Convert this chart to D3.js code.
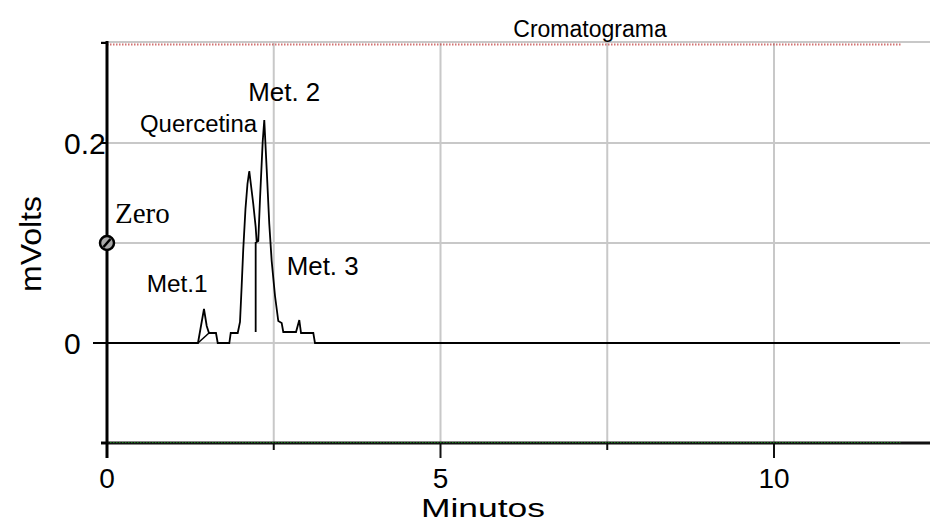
<!DOCTYPE html>
<html><head><meta charset="utf-8">
<script src="https://cdn.jsdelivr.net/npm/d3@7"></script>
<style>body{margin:0;background:#fff}svg{display:block}</style>
</head><body>
<svg id="c" width="930" height="523"></svg>
<script>
// ---- data ----
const times  = [0, 1.364, 1.454, 1.495, 1.529, 1.634, 1.660, 1.834, 1.855, 1.960, 1.994, 2.019, 2.043, 2.076, 2.106, 2.133, 2.193, 2.229, 2.244, 2.268, 2.294, 2.334, 2.358, 2.394, 2.433, 2.469, 2.519, 2.568, 2.619, 2.643, 2.834, 2.883, 2.909, 3.093, 3.118, 11.889];
const mvolts = [0, 0, 0.034, 0.017, 0.010, 0.010, 0, 0, 0.010, 0.010, 0.021, 0.057, 0.094, 0.134, 0.159, 0.172, 0.139, 0.116, 0.101, 0.102, 0.144, 0.201, 0.223, 0.174, 0.119, 0.082, 0.047, 0.022, 0.020, 0.011, 0.011, 0.023, 0.010, 0.010, 0, 0];
const met1BaseT = [1.364, 1.529];
const met1BaseV = [0, 0.010];
const dropT = [2.229, 2.229];
const dropV = [0.011, 0.101];
const xTicks = [0, 2.5, 5, 7.5, 10];
const xLabels = ["0", "", "5", "", "10"];
const yTicks = [-0.1, 0, 0.1, 0.2, 0.3];
const yLabels = ["", "0", "", "0.2", ""];
const peakNames = ["Met.1", "Quercetina", "Met. 2", "Met. 3"];
const peakT = [0.595, 0.495, 2.118, 2.694];
const peakV = [0.0507, 0.2107, 0.2423, 0.068];
const zeroT = 0, zeroV = 0.1;

// ---- scales ----
const x = d3.scaleLinear().domain([0, 10]).range([107, 774]);
const y = d3.scaleLinear().domain([-0.1, 0.3]).range([443, 43]);
const svg = d3.select("#c");
const X0 = 107, X1 = 930, Y0 = 443, Y1 = 42;
const SANS = "Liberation Sans, Arial, sans-serif";

// grid
svg.append("g").selectAll("line").data(xTicks.slice(1)).join("line")
  .attr("x1", d => x(d)).attr("x2", d => x(d)).attr("y1", Y1).attr("y2", Y0)
  .attr("stroke", "#c8c8c8").attr("stroke-width", 2);
svg.append("g").selectAll("line").data(yTicks.slice(1)).join("line")
  .attr("x1", d => d === 0.3 ? 101 : X0).attr("x2", X1)
  .attr("y1", d => d === 0.3 ? Y1 : y(d)).attr("y2", d => d === 0.3 ? Y1 : y(d))
  .attr("stroke", "#c8c8c8").attr("stroke-width", 2);

// red dotted top line
svg.append("line").attr("x1", X0).attr("x2", 902).attr("y1", 44.5).attr("y2", 44.5)
  .attr("stroke", "#c85050").attr("stroke-width", 2).attr("stroke-dasharray", "1.5,1.5").attr("opacity", 0.8);

// bottom axis
svg.append("line").attr("x1", 101).attr("x2", X1).attr("y1", Y0).attr("y2", Y0)
  .attr("stroke", "#111").attr("stroke-width", 3);
svg.append("line").attr("x1", X0).attr("x2", 902).attr("y1", Y0 - 0.5).attr("y2", Y0 - 0.5)
  .attr("stroke", "#1a7a1a").attr("stroke-width", 1.2).attr("stroke-dasharray", "1.5,1.5");
svg.append("g").selectAll("line").data(xTicks).join("line")
  .attr("x1", d => x(d)).attr("x2", d => x(d)).attr("y1", Y0)
  .attr("y2", (d, i) => xLabels[i] ? 458 : 450)
  .attr("stroke", "#111").attr("stroke-width", 2);
svg.append("g").selectAll("text").data(xTicks).join("text")
  .attr("x", d => x(d)).attr("y", 488).attr("text-anchor", "middle")
  .attr("font-family", SANS).attr("font-size", 28)
  .text((d, i) => xLabels[i]);
svg.append("text").attr("x", 483).attr("y", 517).attr("text-anchor", "middle")
  .attr("font-family", SANS).attr("font-size", 26)
  .attr("textLength", 124).attr("lengthAdjust", "spacingAndGlyphs").text("Minutos");

// left axis
svg.append("line").attr("x1", X0).attr("x2", X0).attr("y1", Y1 - 1).attr("y2", 458)
  .attr("stroke", "#000").attr("stroke-width", 3);
svg.append("g").selectAll("line").data(yTicks).join("line")
  .attr("x1", d => d === 0 ? 93 : 101).attr("x2", X0)
  .attr("y1", d => y(d)).attr("y2", d => y(d))
  .attr("stroke", "#000").attr("stroke-width", 2);
svg.append("g").selectAll("text").data(yTicks).join("text")
  .attr("x", 64).attr("y", d => y(d) + 11).attr("text-anchor", "start")
  .attr("font-family", SANS).attr("font-size", 30)
  .text((d, i) => yLabels[i]);
svg.append("text").attr("transform", "translate(41,244) rotate(-90)").attr("text-anchor", "middle")
  .attr("font-family", SANS).attr("font-size", 30)
  .attr("textLength", 96).attr("lengthAdjust", "spacingAndGlyphs").text("mVolts");

// title
svg.append("text").attr("x", 590).attr("y", 37).attr("text-anchor", "middle")
  .attr("font-family", SANS).attr("font-size", 23).text("Cromatograma");

// trace
const line = d3.line().x(d => x(d[0])).y(d => y(d[1]));
svg.append("path").attr("d", line(d3.zip(times, mvolts)))
  .attr("fill", "none").attr("stroke", "#000").attr("stroke-width", 1.8).attr("stroke-linejoin", "miter");
svg.append("path").attr("d", line(d3.zip(met1BaseT, met1BaseV)))
  .attr("fill", "none").attr("stroke", "#000").attr("stroke-width", 1.5);
svg.append("path").attr("d", line(d3.zip(dropT, dropV)))
  .attr("fill", "none").attr("stroke", "#000").attr("stroke-width", 1.8);

// peak labels
const sizes = [24, 23, 25, 25];
const widths = [61, 117, 72, 72];
svg.append("g").selectAll("text").data(peakNames).join("text")
  .attr("x", (d, i) => x(peakT[i])).attr("y", (d, i) => y(peakV[i]))
  .attr("text-anchor", "start")
  .attr("font-family", SANS)
  .attr("font-size", (d, i) => sizes[i])
  .attr("textLength", (d, i) => widths[i]).attr("lengthAdjust", "spacingAndGlyphs")
  .text(d => d);

// zero marker
const zx = x(zeroT), zy = y(zeroV);
svg.append("circle").attr("cx", zx).attr("cy", zy).attr("r", 7)
  .attr("fill", "#a8a8a8").attr("stroke", "#000").attr("stroke-width", 2.5);
svg.append("line").attr("x1", zx - 3.5).attr("y1", zy + 4).attr("x2", zx + 3.5).attr("y2", zy - 4)
  .attr("stroke", "#000").attr("stroke-width", 2.5);
svg.append("text").attr("x", zx + 8).attr("y", zy - 20)
  .attr("font-family", "Liberation Serif, Times New Roman, serif").attr("font-size", 29).text("Zero");
</script>
</body></html>
